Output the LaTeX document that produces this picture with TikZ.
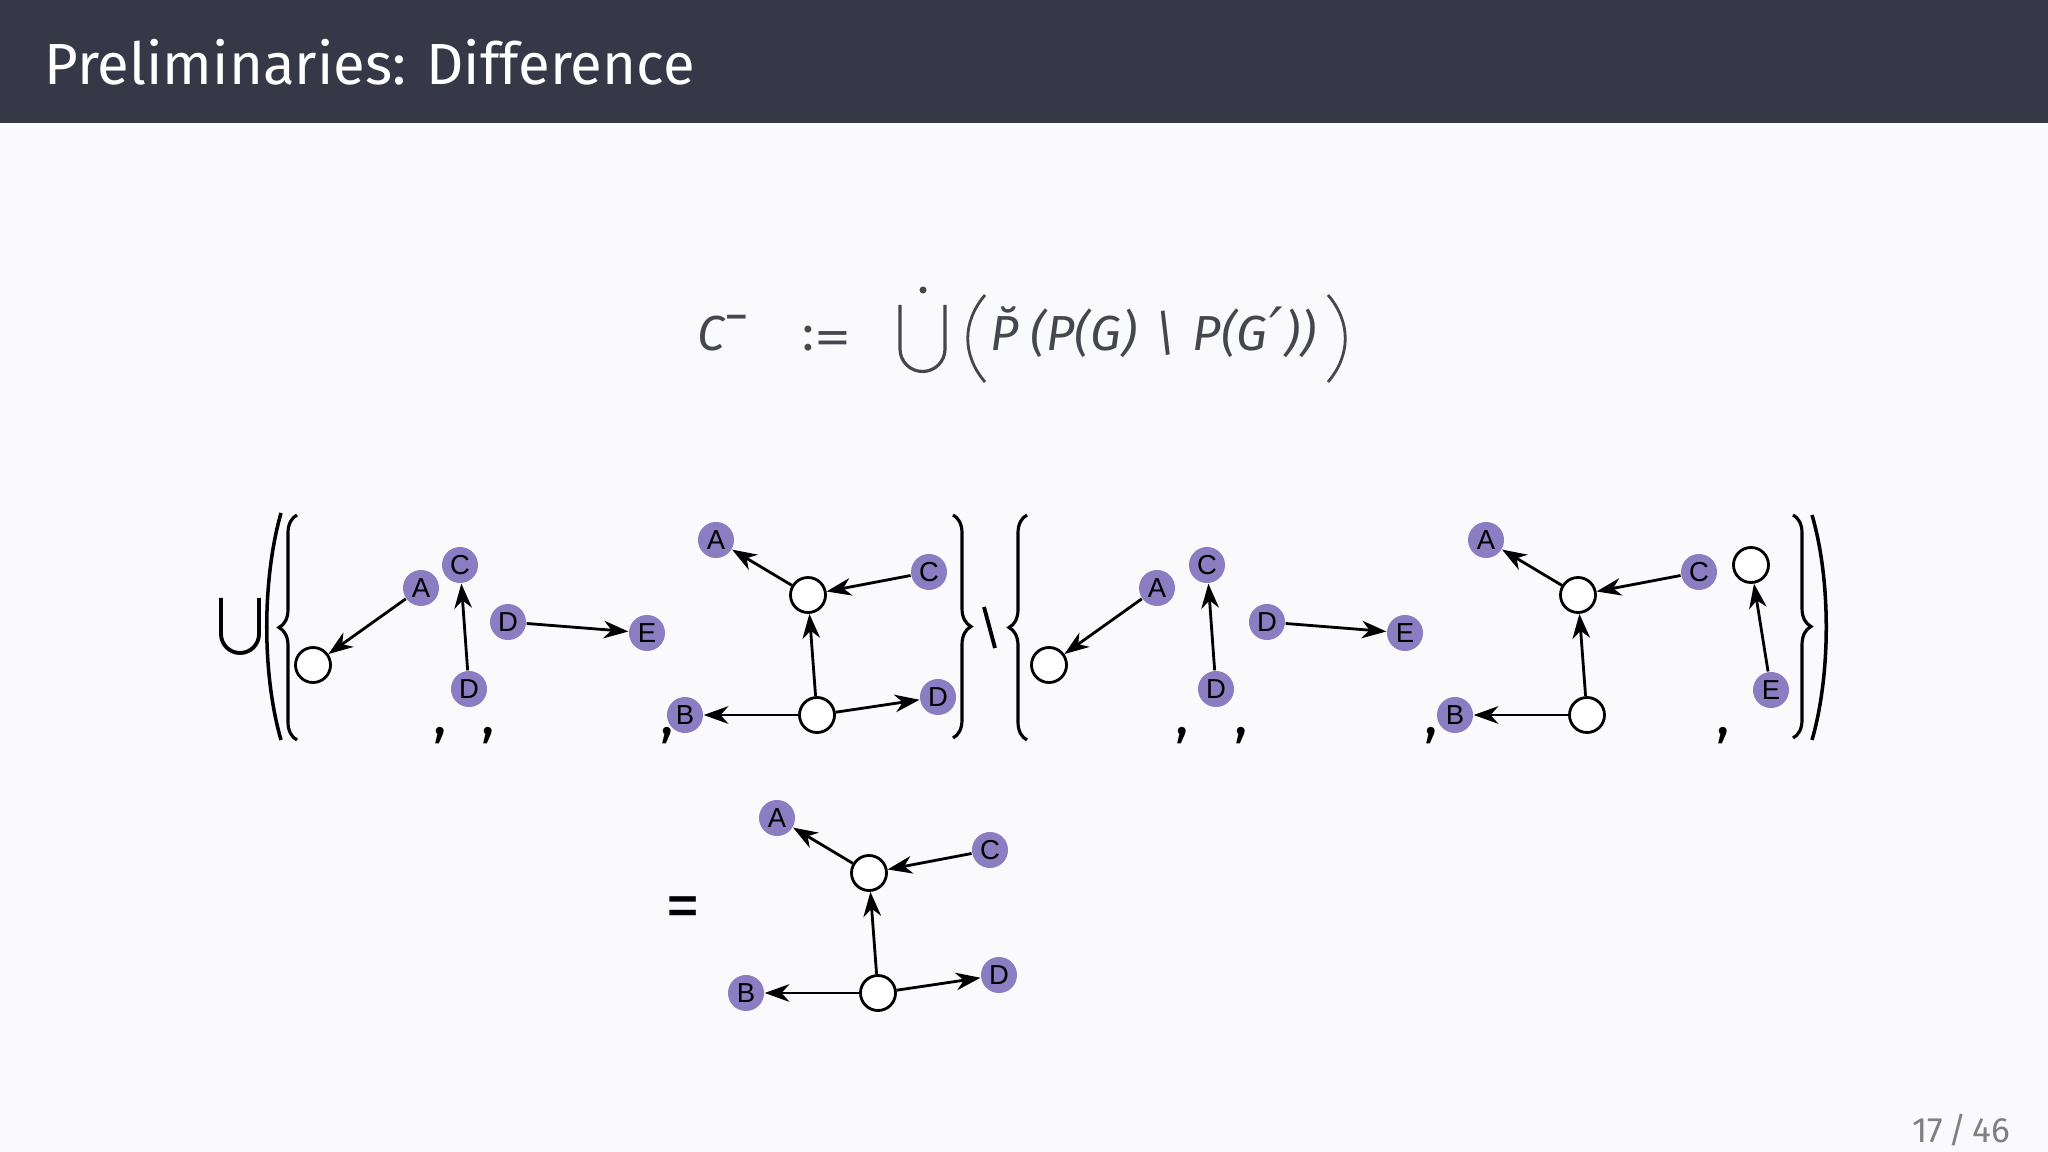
\documentclass[tikz,border=0pt]{standalone}
\usepackage{fontspec}
\setmainfont{Fira Sans}
\newfontfamily\lblfont{Liberation Sans}
\newfontfamily\symfont{DejaVu Sans}
\usetikzlibrary{arrows.meta,decorations.pathreplacing}
\definecolor{barcol}{HTML}{363847}
\definecolor{pagecol}{HTML}{FAFAFC}
\definecolor{vtxcol}{HTML}{8A7DC1}
\definecolor{mathcol}{HTML}{45474F}
\tikzset{
  vlab/.style={circle, fill=vtxcol, inner sep=0pt, minimum size=0.36cm, font=\lblfont\fontsize{7.8}{8}\selectfont},
  hole/.style={circle, draw, fill=white, line width=0.8pt, inner sep=0pt, minimum size=0.35cm},
  link/.style={line width=0.8pt, -{Stealth[length=7pt,width=5pt,inset=2.2pt]}},
  delim/.style={line width=1pt},
  curly/.style={line width=0.9pt, decorate, decoration={brace, amplitude=0.18cm}},
  comma/.style={font=\fontsize{16}{18}\selectfont, inner sep=0pt, anchor=base},
  mtext/.style={text=mathcol, font=\fontsize{14}{16}\selectfont, inner sep=0pt, anchor=base west},
}
\begin{document}
\begin{tikzpicture}[x=0.01cm, y=-0.01cm]
\useasboundingbox (0,0) rectangle (2048,1152);
\fill[pagecol] (0,0) rectangle (2048,1152);
\fill[barcol] (0,0) rectangle (2048,123);
\node[anchor=west, text=white, font=\fontsize{16.5}{20}\selectfont, inner sep=0pt] (title) at (44,62) {Preliminaries: Difference};
\node[anchor=base east, text=gray, font=\fontsize{10}{12}\selectfont, inner sep=0pt] (page) at (2011,1142) {17\,/\,46};

\node[mtext] (cm) at (697,351) {\itshape C};
\node[mtext] (cminus) at (724,334) {−};
\node[mtext] (defeq) at (802,351) {:\raisebox{-1pt}{\scalebox{1.5}[1]{=}}};
\draw[mathcol, line width=0.9pt] (900,305) -- (900,349) arc (180:360:0.225cm) -- (945,305);
\fill[mathcol] (923,290) circle (0.035cm);
\draw[mathcol, line width=0.8pt] (985,295) .. controls (962,322) and (962,355) .. (985,382);
\node[mtext] (pb) at (990,351) {\itshape\u{P}};
\node[mtext] (lp) at (1030,351) {\itshape(P(G)};
\node[mtext] (sm) at (1152,351) {\itshape\textbackslash};
\node[mtext] (rp) at (1192,351) {\itshape P(G\kern0.5pt{\symfont\fontsize{17}{18}\selectfont ′}\kern0.5pt))};
\draw[mathcol, line width=0.8pt] (1328,295) .. controls (1351,322) and (1351,355) .. (1328,382);

\draw[line width=1.1pt] (221,598) -- (221,634) arc (180:360:0.19cm) -- (259,598);
\draw[delim] (281,513) .. controls (262,580) and (262,674) .. (281,740);
\draw[curly] (297,740) -- (297,515);
\draw[curly] (953,515) -- (953,738);
\draw[line width=1.1pt] (984,607) -- (995,648);
\draw[curly] (1027,740) -- (1027,515);
\draw[curly] (1793,515) -- (1793,738);
\draw[delim] (1812,515) .. controls (1831,580) and (1831,674) .. (1812,740);

\node[hole] (h1) at (313,665) {};
\node[vlab] (a1) at (421,588) {A};
\draw[link] (a1) -- (h1);
\node[vlab] (c2) at (460,565) {C};
\node[vlab] (d2) at (469,689) {D};
\draw[link] (d2) -- (c2);
\node[vlab] (d3) at (508,622) {D};
\node[vlab] (e3) at (647,633) {E};
\draw[link] (d3) -- (e3);

\node[hole] (h1x) at (1049,665) {};
\node[vlab] (a1x) at (1157,588) {A};
\draw[link] (a1x) -- (h1x);
\node[vlab] (c2x) at (1207,565) {C};
\node[vlab] (d2x) at (1216,689) {D};
\draw[link] (d2x) -- (c2x);
\node[vlab] (d3x) at (1267,622) {D};
\node[vlab] (e3x) at (1405,633) {E};
\draw[link] (d3x) -- (e3x);
\node[hole] (h5x) at (1751,565) {};
\node[vlab] (e5x) at (1771,690) {E};
\draw[link] (e5x) -- (h5x);

\foreach \gx/\gy/\g in {0/0/p, 770/0/q, 61/278/r}{
  \begin{scope}[shift={(\gx,\gy)}]
    \node[hole] (\g-top) at (808,595) {};
    \node[hole] (\g-bot) at (817,715) {};
    \node[vlab] (\g-A) at (716,540) {A};
    \node[vlab] (\g-B) at (685,715) {B};
    \node[vlab] (\g-C) at (929,572) {C};
    \draw[link] (\g-top) -- (\g-A);
    \draw[link] (\g-C) -- (\g-top);
    \draw[link] (\g-bot) -- (\g-top);
    \draw[link] (\g-bot) -- (\g-B);
  \end{scope}
}
\node[vlab] (p-D) at (938,697) {D};
\draw[link] (p-bot) -- (p-D);
\node[vlab] (r-D) at (999,975) {D};
\draw[link] (r-bot) -- (r-D);

\foreach \cx [count=\i] in {440,488,667,1182,1241,1431,1723}{
  \node[comma] (comma\i) at (\cx,734) {,};
}
\node[font=\fontsize{20}{24}\selectfont, inner sep=0pt] (eq) at (683,913) {=};
\end{tikzpicture}
\end{document}
